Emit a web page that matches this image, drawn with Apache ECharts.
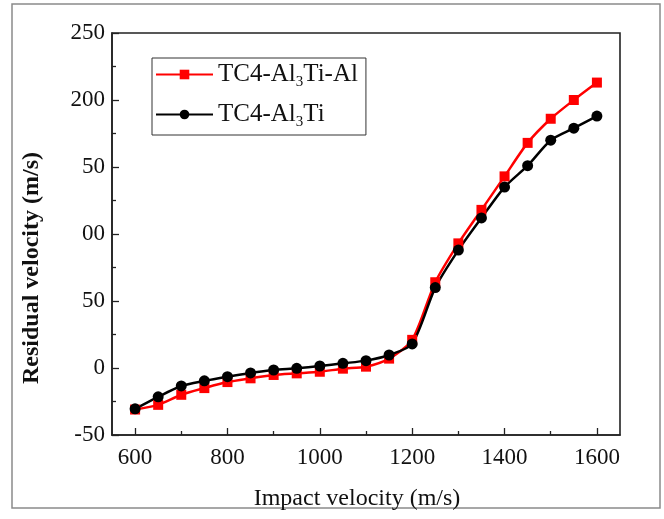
<!DOCTYPE html>
<html>
<head>
<meta charset="utf-8">
<script src="https://cdn.jsdelivr.net/npm/echarts@6/dist/echarts.min.js"></script>
<style>
  html, body { margin: 0; padding: 0; background: #fff; }
  #chart { width: 664px; height: 519px; }
</style>
</head>
<body>
<div id="chart"></div>
<script>
// Impact velocity (m/s)
const impactVelocity = [600, 650, 700, 750, 800, 850, 900, 950, 1000, 1050, 1100,
  1150, 1200, 1250, 1300, 1350, 1400, 1450, 1500, 1550, 1600];
// Residual velocity (m/s) per target configuration
const residualTriLayer = [-31, -27.5, -20, -15, -10.5, -7.7, -5.2, -4, -2.8, -0.5, 1,
  7, 21, 64, 93, 118, 143, 168, 186, 200, 213];
const residualBiLayer = [-30.5, -21.5, -13.4, -9.6, -6.5, -3.7, -1.5, -0.2, 1.5, 3.5, 5.5,
  9.7, 18, 60, 88, 112, 135, 151, 170, 179, 188];
// Tick positions and labels
const xMajorTicks = [600, 800, 1000, 1200, 1400, 1600];
const xMinorTicks = [700, 900, 1100, 1300, 1500];
const yMinorTicks = [-25, 25, 75, 125, 175, 225];
const yTickLabels = ['-50', '0', '50', '00', '50', '200', '250'];
const seriesNames = ['TC4-Al3Ti-Al', 'TC4-Al3Ti'];
const yTitle = 'Residual velocity (m/s)';
const xTitle = 'Impact velocity (m/s)';

const font = '"Liberation Serif", "Times New Roman", serif';
const axisColor = '#222';
const textColor = '#111';

const pairs = (ys) => impactVelocity.map((x, i) => [x, ys[i]]);

const chart = echarts.init(document.getElementById('chart'), null, { renderer: 'canvas' });

chart.setOption({
  animation: false,
  backgroundColor: '#fff',
  graphic: [{
    type: 'rect',
    shape: { x: 12, y: 4, width: 648, height: 504 },
    style: { fill: 'none', stroke: '#8a8a8a', lineWidth: 1.5 },
    silent: true
  }, {
    type: 'text',
    x: 32, y: 268,
    rotation: Math.PI / 2,
    style: {
      text: yTitle, fontFamily: font, fontSize: 24, fontWeight: 'bold',
      fill: textColor, align: 'center', verticalAlign: 'middle'
    },
    silent: true
  }],
  grid: {
    left: 112, top: 33, right: 44, bottom: 84,
    show: true, borderColor: axisColor, borderWidth: 1.6, backgroundColor: 'transparent'
  },
  legend: {
    left: 152, top: 58,
    orient: 'vertical',
    padding: [4, 8, 5, 3],
    itemGap: 12,
    itemWidth: 57,
    itemHeight: 12,
    borderColor: '#333',
    borderWidth: 1,
    data: seriesNames,
    formatter: (name) => name.replace('Al3', 'Al{s|3}'),
    textStyle: {
      fontFamily: font, fontSize: 25, color: textColor,
      rich: {
        s: { fontFamily: font, fontSize: 15, color: textColor, padding: [16, 0, 0, 0] }
      }
    }
  },
  xAxis: [{
    type: 'value', min: 550, max: 1650,
    name: xTitle, nameLocation: 'middle', nameGap: 52,
    nameTextStyle: { fontFamily: font, fontSize: 24, color: textColor, padding: [0, 18, 0, 0] },
    axisLine: { onZero: false, lineStyle: { color: axisColor, width: 1.6 } },
    axisTick: { inside: true, length: 7, customValues: xMajorTicks, lineStyle: { color: axisColor, width: 1.3 } },
    axisLabel: {
      customValues: xMajorTicks, fontFamily: font, fontSize: 23, color: textColor, margin: 11,
      formatter: (v) => String(v)
    },
    splitLine: { show: false }
  }, {
    type: 'value', min: 550, max: 1650, position: 'bottom',
    axisLine: { show: false, onZero: false },
    axisTick: { inside: true, length: 4, customValues: xMinorTicks, lineStyle: { color: axisColor, width: 1.3 } },
    axisLabel: { show: false },
    splitLine: { show: false }
  }],
  yAxis: [{
    type: 'value', min: -50, max: 250, interval: 50,
    axisLine: { show: true, onZero: false, lineStyle: { color: axisColor, width: 1.6 } },
    axisTick: { inside: true, length: 7, lineStyle: { color: axisColor, width: 1.3 } },
    axisLabel: {
      fontFamily: font, fontSize: 23, color: textColor, margin: 7,
      formatter: (v) => yTickLabels[Math.round((v + 50) / 50)]
    },
    splitLine: { show: false }
  }, {
    type: 'value', min: -50, max: 250, position: 'left',
    axisLine: { show: false, onZero: false },
    axisTick: { inside: true, length: 4, customValues: yMinorTicks, lineStyle: { color: axisColor, width: 1.3 } },
    axisLabel: { show: false },
    splitLine: { show: false }
  }],
  series: [{
    name: seriesNames[0], type: 'line', data: pairs(residualTriLayer),
    smooth: 0.25, symbol: 'rect', symbolSize: 10,
    lineStyle: { color: '#ff0000', width: 2.5 },
    itemStyle: { color: '#ff0000' }
  }, {
    name: seriesNames[1], type: 'line', data: pairs(residualBiLayer),
    smooth: 0.25, symbol: 'circle', symbolSize: 11,
    lineStyle: { color: '#000', width: 2.5 },
    itemStyle: { color: '#000' }
  }]
});
</script>
</body>
</html>
